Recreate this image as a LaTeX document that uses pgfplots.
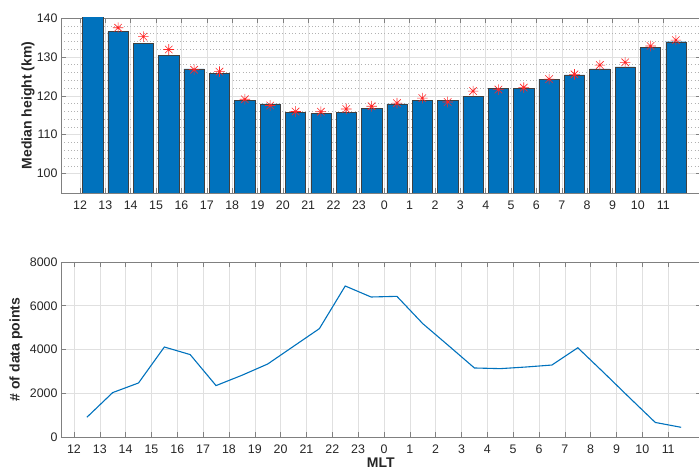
\documentclass[border=0pt]{standalone}
\usepackage{pgfplots}
\pgfplotsset{compat=1.18}
\usepackage{fontspec}
\setmainfont{Liberation Sans}
\definecolor{mblue}{RGB}{0,114,189}
\definecolor{mtext}{RGB}{38,38,38}
\pgfdeclareplotmark{mstar}{%
  \pgfpathmoveto{\pgfqpoint{-\pgfplotmarksize}{0pt}}\pgfpathlineto{\pgfqpoint{\pgfplotmarksize}{0pt}}%
  \pgfpathmoveto{\pgfqpoint{0pt}{-\pgfplotmarksize}}\pgfpathlineto{\pgfqpoint{0pt}{\pgfplotmarksize}}%
  \pgfpathmoveto{\pgfqpoint{-0.707\pgfplotmarksize}{-0.707\pgfplotmarksize}}\pgfpathlineto{\pgfqpoint{0.707\pgfplotmarksize}{0.707\pgfplotmarksize}}%
  \pgfpathmoveto{\pgfqpoint{-0.707\pgfplotmarksize}{0.707\pgfplotmarksize}}\pgfpathlineto{\pgfqpoint{0.707\pgfplotmarksize}{-0.707\pgfplotmarksize}}%
  \pgfusepathqstroke}
\begin{document}
\begin{tikzpicture}[x=1pt,y=1pt]
\pgfplotsset{
  mlstyle/.style={
    scale only axis, width=639.5pt, height=175pt,
    font=\fontsize{12.4}{14}\selectfont,
    /pgf/number format/assume math mode=true,
    /pgf/number format/1000 sep={},
    scaled y ticks=false,
    tick align=inside,
    major tick length=5pt, minor tick length=0pt,
    axis line style={black!50, line width=0.5pt},
    every tick/.style={black!50, line width=0.5pt},
    tick label style={text=mtext},
    xticklabel style={yshift=-4pt},
    grid=major,
    major grid style={black!12, line width=0.5pt},
    minor grid style={black!30, dash pattern=on 0.7pt off 2.6pt, line width=0.5pt},
    xtick={12,13,14,15,16,17,18,19,20,21,22,23,24,25,26,27,28,29,30,31,32,33,34,35},
    xticklabels={12,13,14,15,16,17,18,19,20,21,22,23,0,1,2,3,4,5,6,7,8,9,10,11},
    label style={font=\fontsize{14}{16}\selectfont\bfseries, text=mtext},
  }
}
\begin{axis}[mlstyle, at={(61pt,278pt)}, anchor=south west,
  xmin=11.25, xmax=36.47, ymin=95, ymax=140,
  ytick={100,110,120,130,140}, minor y tick num=4,
  ymajorgrids, yminorgrids, xmajorgrids,
  ylabel={Median height (km)},
  ylabel style={at={(axis description cs:-0.0516,0.5)}, anchor=center},
]
\addplot[ybar, bar width=0.8, fill=mblue, draw=black!75, line width=0.4pt] coordinates {
(12.5,141) (13.5,136.5) (14.5,133.5) (15.5,130.4) (16.5,126.9) (17.5,125.8)
(18.5,118.9) (19.5,117.9) (20.5,115.8) (21.5,115.4) (22.5,115.8) (23.5,116.8)
(24.5,117.9) (25.5,118.9) (26.5,118.9) (27.5,119.8) (28.5,121.9) (29.5,121.9)
(30.5,124.3) (31.5,125.4) (32.5,126.9) (33.5,127.4) (34.5,132.4) (35.5,133.9)
};
\addplot[only marks, mark=mstar, mark size=5.3pt, mark options={draw=red!85, line width=0.6pt}] coordinates {
(13.5,137.5) (14.5,135.2) (15.5,131.9) (16.5,126.7) (17.5,126.2)
(18.5,119.1) (19.5,117.5) (20.5,115.95) (21.5,115.9) (22.5,116.6) (23.5,117.3)
(24.5,118.1) (25.5,119.4) (26.5,118.4) (27.5,121.2) (28.5,121.6) (29.5,122.1)
(30.5,124.3) (31.5,125.5) (32.5,127.9) (33.5,128.6) (34.5,132.8) (35.5,134.3)
};
\end{axis}
\begin{axis}[mlstyle, at={(61pt,34pt)}, anchor=south west,
  xmin=11.5, xmax=36.25, ymin=0, ymax=8000,
  ytick={0,2000,4000,6000,8000},
  ylabel={\# of data points},
  ylabel style={at={(axis description cs:-0.0704,0.5)}, anchor=center},
  xlabel={MLT},
  xlabel style={at={(axis description cs:0.5,-0.145)}, anchor=center},
]
\addplot[mblue, line width=1.1pt] coordinates {
(12.5,900) (13.5,2030) (14.5,2470) (15.5,4114) (16.5,3767) (17.5,2350)
(18.5,2820) (19.5,3337) (20.5,4146) (21.5,4954) (22.5,6903) (23.5,6400)
(24.5,6430) (25.5,5183) (26.5,4175) (27.5,3155) (28.5,3125) (29.5,3200)
(30.5,3290) (31.5,4080) (32.5,2950) (33.5,1800) (34.5,665) (35.5,443)
};
\end{axis}
\pgfresetboundingbox
\path[use as bounding box] (0,0) rectangle (699,471);
\end{tikzpicture}
\end{document}
